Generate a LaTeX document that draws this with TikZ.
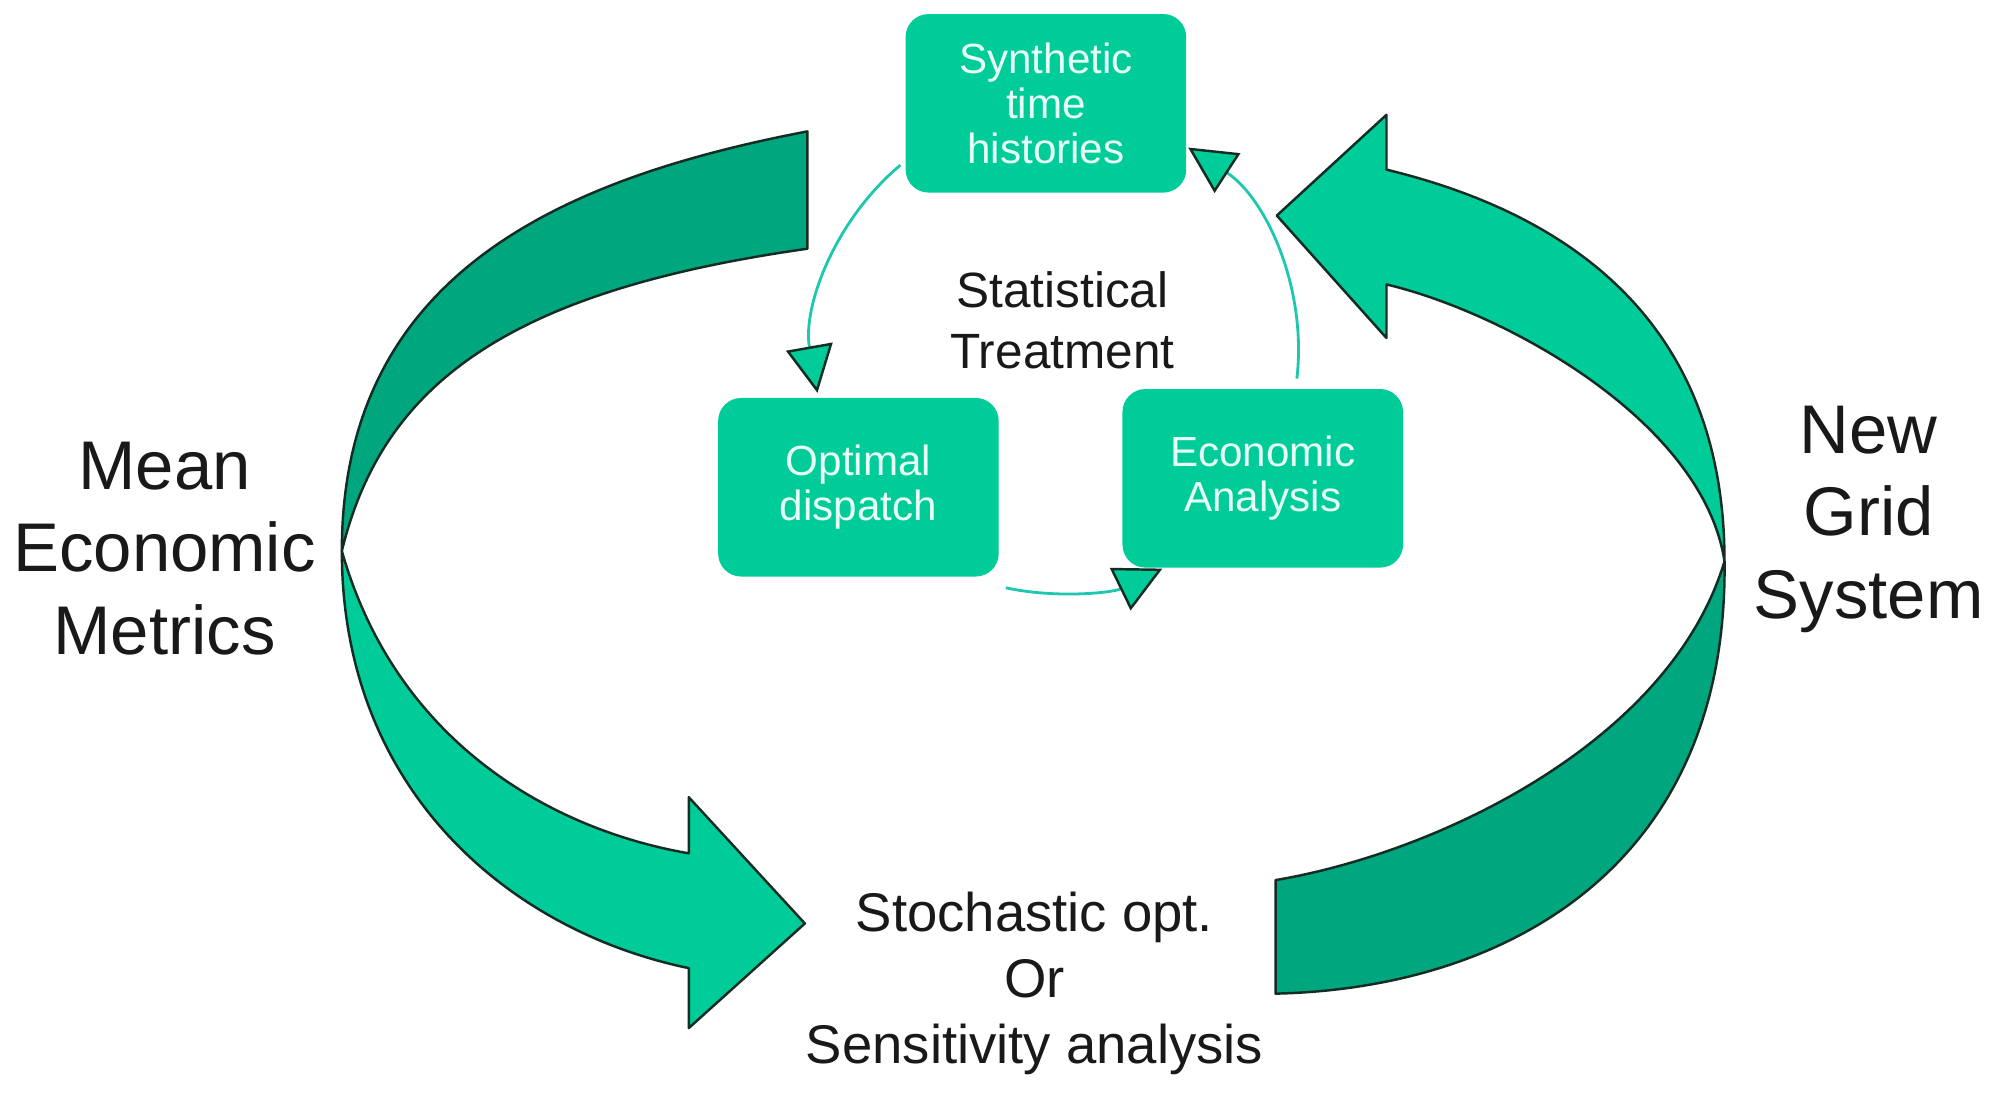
\documentclass[tikz,border=0pt]{standalone}
\usepackage{fontspec}
\setmainfont{Liberation Sans}
\usetikzlibrary{arrows.meta}
\definecolor{mint}{RGB}{0,204,153}
\definecolor{darkmint}{RGB}{0,166,126}
\definecolor{cycline}{RGB}{30,200,175}
\definecolor{edgecol}{RGB}{20,45,35}
\definecolor{boxtext}{RGB}{232,255,246}
\definecolor{ink}{RGB}{25,25,25}
\begin{document}
\begin{tikzpicture}[x=0.012755cm, y=-0.012755cm,
  stepbox/.style={rectangle, rounded corners=0.23cm, fill=mint, text=boxtext,
    minimum width=2.806cm, minimum height=1.786cm, align=center, inner sep=0pt,
    font=\fontsize{12}{12.8}\selectfont},
  band/.style={draw=edgecol, line width=0.7pt, line join=round},
  cyc/.style={draw=cycline, line width=0.8pt,
    -{Triangle[length=4.7mm,width=4.7mm,fill=mint,color=edgecol,line width=0.7pt]}},
  bigtext/.style={align=center, text=ink, font=\fontsize{19.6}{23.5}\selectfont},
  midtext/.style={align=center, text=ink, font=\fontsize{14.1}{17.3}\selectfont},
  lowtext/.style={align=center, text=ink, font=\fontsize{15.5}{18.7}\selectfont}]
\useasboundingbox (0,0) rectangle (1568,862);
\fill[white] (0,0) rectangle (1568,862);

% left curved arrow: dark upper part, light lower part with head
\path[band, fill=darkmint] (633,103) .. controls (440,140) and (268,215) .. (268,432)
  .. controls (300,300) and (400,228) .. (633,195) -- cycle;
\path[band, fill=mint] (268,432) .. controls (268,620) and (400,730) .. (540,759)
  -- (540,806) -- (631,724) -- (540,625) -- (540,669)
  .. controls (430,650) and (310,580) .. (268,432) -- cycle;

% right curved arrow: dark lower part, light upper part with head
\path[band, fill=darkmint] (1352,440) .. controls (1355,680) and (1180,775) .. (1000,779)
  -- (1000,690) .. controls (1130,668) and (1310,580) .. (1352,440) -- cycle;
\path[band, fill=mint] (1352,440) .. controls (1352,260) and (1240,170) .. (1087,133)
  -- (1087,90) -- (1001,169) -- (1087,265) -- (1087,223)
  .. controls (1180,245) and (1335,330) .. (1352,440) -- cycle;

% inner cycle
\coordinate (cc) at (828,275);
\draw[cyc] (cc) ++(230:190) arc[start angle=230, end angle=170, radius=190];
\draw[cyc] (cc) ++(102:190) arc[start angle=102, end angle=64, radius=190];
\draw[cyc] (cc) ++(6.6:190) arc[start angle=6.6, end angle=-57, radius=190];

\node[stepbox] (syn) at (820,81) {Synthetic\\time\\histories};
\node[stepbox] (opt) at (673,382) {Optimal\\dispatch};
\node[stepbox] (eco) at (990,375) {Economic\\Analysis};

\node[midtext] (stat) at (833,251) {Statistical\\Treatment};
\node[bigtext] (mean) at (129,430) {Mean\\Economic\\Metrics};
\node[bigtext] (grid) at (1465,407) {New\\Grid\\System};
\node[lowtext] (stoch) at (811,771) {Stochastic opt.\\Or\\Sensitivity analysis};
\end{tikzpicture}
\end{document}
